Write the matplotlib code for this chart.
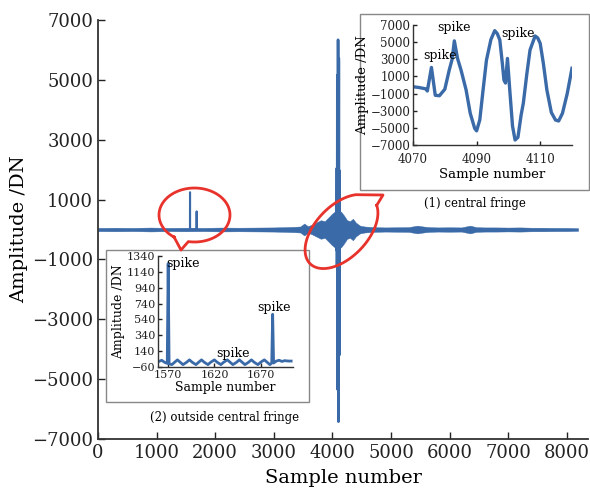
import numpy as np
import matplotlib
matplotlib.use("Agg")
import matplotlib.pyplot as plt
from matplotlib.patches import Rectangle

plt.rcParams['font.family'] = ['DejaVu Serif']
plt.rcParams['axes.unicode_minus'] = True

# main interferogram: noise band half-width along the record
noise_x = [0, 300, 600, 900, 1200, 1500, 1800, 2100, 2400, 2700, 3000, 3200, 3350, 3450,
           3520, 3580, 3650, 3720, 3800, 3870, 3930, 3990, 4040, 4097, 4150, 4200, 4250,
           4300, 4350, 4400, 4470, 4550, 4700, 4900, 5100, 5300, 5450, 5550, 5650, 5800,
           6000, 6200, 6350, 6450, 6600, 6800, 7000, 7200, 7400, 7600, 7800, 8000, 8191]
noise_amp = [55, 60, 55, 65, 55, 60, 55, 65, 60, 65, 70, 80, 90, 100,
             200, 110, 160, 230, 310, 280, 400, 520, 600, 650, 590, 460, 310,
             280, 360, 230, 130, 100, 80, 70, 75, 80, 130, 100, 80, 70,
             75, 70, 130, 80, 70, 70, 65, 70, 60, 60, 55, 55, 45]

# spikes outside the central fringe
spike_x = [1569, 1570, 1571, 1682, 1683, 1684]
spike_y = [0, 1245, 0, 0, 605, 0]

# central fringe (inset 1)
fringe_x = [4070, 4072, 4074, 4074.5, 4075.8, 4077, 4078.3, 4080, 4081.4, 4082.3, 4083,
            4084, 4085.1, 4086.7, 4088, 4089.4, 4090, 4091, 4092, 4093.1, 4094.5, 4095.7,
            4096.5, 4097.3, 4098.1, 4098.6, 4099.1, 4099.7, 4100.5, 4101.3, 4102.1, 4103,
            4104, 4104.7, 4105.8, 4106.8, 4108.4, 4109.2, 4110, 4111, 4112.1, 4113.5,
            4114.8, 4115.8, 4117, 4118.5, 4120]
fringe_y = [-200, -300, -450, -700, 2050, -1200, -1250, -500, 1750, 3000, 5150,
            3100, 1750, -580, -3300, -5060, -5350, -4080, -700, 2900, 5300, 6340,
            6000, 5250, 2500, 580, 230, 3100, -930, -4800, -6420, -6100,
            -3500, -2100, 1300, 4080, 5720, 5500, 4860, 2500, -580, -3200,
            -4080, -4200, -3300, -1000, 1950]

# outside central fringe (inset 2)
out_x = [1560, 1563, 1566, 1569, 1570, 1571, 1574, 1577, 1580, 1583, 1586, 1590, 1593, 1596,
         1600, 1603, 1606, 1609, 1613, 1616, 1620, 1623, 1627, 1630, 1634, 1637, 1640, 1644,
         1647, 1650, 1653, 1657, 1660, 1663, 1667, 1670, 1674, 1677, 1680, 1682, 1683, 1684,
         1687, 1690, 1693, 1696, 1700, 1703]
out_y = [10, 25, 0, -15, 1245, -20, -30, 0, 30, 0, -30, 0, 30, 0,
         -30, 0, 30, 0, -30, 0, 30, 0, -30, 0, 30, 0, -30, 0,
         30, 0, -30, 0, 30, 0, -30, 0, 30, 0, -30, -10, 605, -10,
         15, 25, 10, 20, 15, 15]

main_xticks = [0, 1000, 2000, 3000, 4000, 5000, 6000, 7000, 8000]
main_yticks = [-7000, -5000, -3000, -1000, 1000, 3000, 5000, 7000]
in1_xticks = [4070, 4090, 4110]
in1_yticks = [-7000, -5000, -3000, -1000, 1000, 3000, 5000, 7000]
in2_xticks = [1570, 1620, 1670]
in2_yticks = [-60, 140, 340, 540, 740, 940, 1140, 1340]

BLUE = '#3a6aa8'
RED = '#e8322c'
W, H = 590, 488

fig = plt.figure(figsize=(W / 100, H / 100), dpi=100)


def px_axes(l, t, r, b):
    return fig.add_axes([l / W, 1 - b / H, (r - l) / W, (b - t) / H])


def style(ax, lw=1.3, length=5):
    ax.spines['top'].set_visible(False)
    ax.spines['right'].set_visible(False)
    for s in ('left', 'bottom'):
        ax.spines[s].set_color('#333333')
        ax.spines[s].set_linewidth(lw)
    ax.tick_params(direction='in', length=length, width=1, colors='#222222')


# ---- main axes
ax = px_axes(98, 20, 588, 439)
ax.fill_between(noise_x, [-a for a in noise_amp], noise_amp, color=BLUE, lw=0.3, ec=BLUE)
ax.plot(spike_x, spike_y, color=BLUE, lw=1.5)
ax.plot(fringe_x, fringe_y, color=BLUE, lw=1.9)
ax.set_xlim(0, 8360)
ax.set_ylim(-7000, 7000)
ax.set_xticks(main_xticks)
ax.set_yticks(main_yticks)
ax.tick_params(labelsize=13)
ax.set_xlabel('Sample number', fontsize=14, labelpad=5)
ax.set_ylabel('Amplitude /DN', fontsize=14, labelpad=3)
style(ax)

# ---- overlay for frames and red bubbles
ov = fig.add_axes([0, 0, 1, 1])
ov.set_xlim(0, W)
ov.set_ylim(H, 0)
ov.axis('off')
ov.set_zorder(2)
ov.add_patch(Rectangle((360, 14), 229, 176, fc='white', ec='#888888', lw=1))
ov.add_patch(Rectangle((106, 250), 203, 152, fc='white', ec='#888888', lw=1))
ov.text(475, 204, '(1) central fringe', fontsize=8.5, ha='center', va='center')
ov.text(225, 418, '(2) outside central fringe', fontsize=8.5, ha='center', va='center')


def bubble(cx, cy, a, b, ang, t0, t1, tip):
    th = np.radians(np.linspace(t0, t1 + 360, 200))
    ca, sa = np.cos(np.radians(ang)), np.sin(np.radians(ang))
    ex, ey = a * np.cos(th), b * np.sin(th)
    xs = list(cx + ex * ca - ey * sa) + [tip[0]]
    ys = list(cy + ex * sa + ey * ca) + [tip[1]]
    xs.append(xs[0])
    ys.append(ys[0])
    ov.plot(xs, ys, color=RED, lw=2, solid_joinstyle='round')


bubble(194.5, 215, 35.5, 27, 0, 125, 100, (181, 250))
bubble(341.5, 231.5, 45, 26, -46, 16, -36, (383, 195))

# ---- inset 1: central fringe
a1 = px_axes(413, 25, 572, 145)
a1.set_zorder(3)
a1.plot(fringe_x, fringe_y, color=BLUE, lw=2.4)
a1.set_xlim(4070, 4120)
a1.set_ylim(-7000, 7000)
a1.set_xticks(in1_xticks)
a1.set_yticks(in1_yticks)
a1.tick_params(labelsize=8.5, pad=2)
a1.tick_params(axis='x', pad=6)
a1.set_xlabel('Sample number', fontsize=9.5, labelpad=1)
a1.set_ylabel('Amplitude /DN', fontsize=9.5, labelpad=1)
style(a1, lw=1, length=3)
for x, y, s in [(4078.5, 3500, 'spike'), (4083, 6700, 'spike'), (4103, 6000, 'spike')]:
    a1.text(x, y, s, fontsize=9, ha='center', va='center')

# ---- inset 2: outside central fringe
a2 = px_axes(158, 256, 293, 367)
a2.set_zorder(3)
a2.plot(out_x, out_y, color=BLUE, lw=2)
a2.set_xlim(1559, 1705)
a2.set_ylim(-60, 1340)
a2.set_xticks(in2_xticks)
a2.set_yticks(in2_yticks)
a2.tick_params(labelsize=8, pad=2)
a2.set_xlabel('Sample number', fontsize=9, labelpad=1)
a2.set_ylabel('Amplitude /DN', fontsize=9, labelpad=1)
style(a2, lw=1, length=3)
for x, y, s in [(1586, 1240, 'spike'), (1684, 690, 'spike'), (1640, 110, 'spike')]:
    a2.text(x, y, s, fontsize=9, ha='center', va='center')

fig.savefig('out.png', dpi=100)
